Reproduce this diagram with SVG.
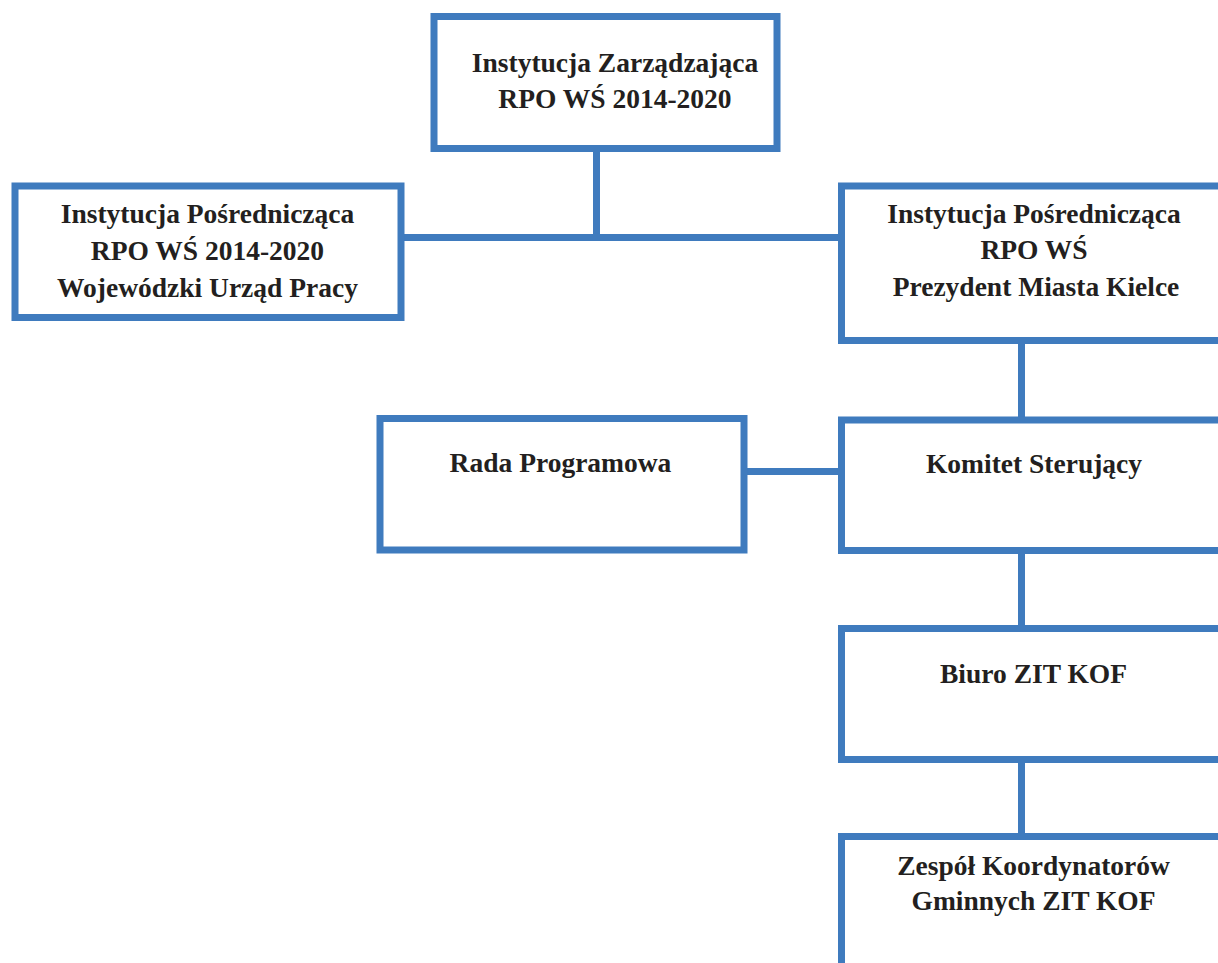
<svg xmlns="http://www.w3.org/2000/svg" width="1218" height="963" viewBox="0 0 1218 963">
<style>
.box{fill:#ffffff;stroke:#3f7bbe;stroke-width:7}
.conn{fill:none;stroke:#3f7bbe;stroke-width:7}
text{font-family:"Liberation Serif","Times New Roman",serif;font-weight:bold;font-size:27.5px;fill:#231f20;text-anchor:middle}
</style>
<rect width="1218" height="963" fill="#ffffff"/>
<g id="connectors">
<line class="conn" x1="596.5" y1="148.5" x2="596.5" y2="237.5"/>
<line class="conn" x1="401" y1="237.5" x2="841.5" y2="237.5"/>
<line class="conn" x1="744" y1="471.5" x2="841.5" y2="471.5"/>
<line class="conn" x1="1021.5" y1="340.5" x2="1021.5" y2="420"/>
<line class="conn" x1="1021.5" y1="550.5" x2="1021.5" y2="628.5"/>
<line class="conn" x1="1021.5" y1="759.5" x2="1021.5" y2="836.5"/>
</g>
<g id="iz">
<rect class="box" x="434" y="16.5" width="343" height="132"/>
<text x="615" y="72">Instytucja Zarządzająca</text>
<text x="615" y="108">RPO WŚ 2014-2020</text>
</g>
<g id="ip-wup">
<rect class="box" x="15" y="186" width="386" height="131.5"/>
<text x="207.5" y="223">Instytucja Pośrednicząca</text>
<text x="207.5" y="260">RPO WŚ 2014-2020</text>
<text x="207.5" y="297">Wojewódzki Urząd Pracy</text>
</g>
<g id="ip-kielce">
<rect class="box" x="841.5" y="186" width="420" height="154.5"/>
<text x="1034" y="223">Instytucja Pośrednicząca</text>
<text x="1034" y="259">RPO WŚ</text>
<text x="1036" y="296">Prezydent Miasta Kielce</text>
</g>
<g id="rada">
<rect class="box" x="380" y="418.5" width="364" height="131.5"/>
<text x="560.5" y="472">Rada Programowa</text>
</g>
<g id="komitet">
<rect class="box" x="841.5" y="420" width="420" height="130.5"/>
<text x="1034" y="473">Komitet Sterujący</text>
</g>
<g id="biuro">
<rect class="box" x="841.5" y="628.5" width="420" height="131"/>
<text x="1033.5" y="683">Biuro ZIT KOF</text>
</g>
<g id="zespol">
<rect class="box" x="841.5" y="836.5" width="420" height="200"/>
<text x="1033.5" y="875">Zespół Koordynatorów</text>
<text x="1033.5" y="910">Gminnych ZIT KOF</text>
</g>
</svg>
